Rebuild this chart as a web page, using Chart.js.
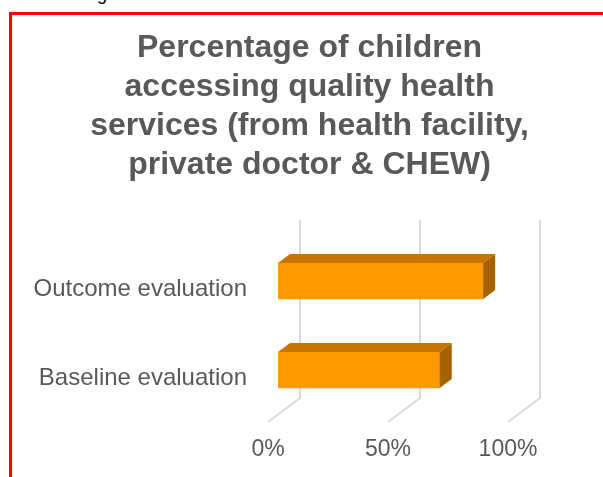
<!DOCTYPE html>
<html>
<head>
<meta charset="utf-8">
<script src="https://cdn.jsdelivr.net/npm/chart.js@4"></script>
<style>
  html, body { margin: 0; padding: 0; background: #ffffff; }
  #wrap { position: relative; width: 603px; height: 477px; overflow: hidden; }
  #frameTop { position: absolute; left: 9px; top: 12px; width: 594px; height: 3px; background: #ff0000; }
  #frameLeft { position: absolute; left: 9px; top: 12px; width: 3px; height: 465px; background: #ff0000; }
  #above { position: absolute; left: 97px; top: -15px; font: 18px "Liberation Sans", Arial, sans-serif; line-height: 18px; color: #000; }
  canvas { position: absolute; left: 0; top: 0; }
</style>
</head>
<body>
<div id="wrap">
  <div id="above">g</div>
  <canvas id="c" width="603" height="477"></canvas>
  <div id="frameTop"></div>
  <div id="frameLeft"></div>
</div>
<script>
const categories = ['Outcome evaluation', 'Baseline evaluation'];
const shareValues = [85.5, 67.4];
const tickValues = [0, 50, 100];
const titleLines = [
  'Percentage of children',
  'accessing quality health',
  'services (from health facility,',
  'private doctor & CHEW)'
];

const FRONT = '#ff9900';
const TOP_FACE = '#c57500';
const SIDE_FACE = '#a56300';
const GRID = '#d9d9d9';
const TEXT = '#595959';
const FONT = '"Liberation Sans", Arial, sans-serif';

// depth of the 3D box relative to the bar plane
const BACK_DX = 22, BACK_DY = -16.5;   // back wall
const FRONT_DX = -10, FRONT_DY = 7.5;  // front edge of the floor
const BAR_DX = 12, BAR_DY = -9;        // bar depth

const wallPlugin = {
  id: 'wall3d',
  beforeDatasetsDraw(chart) {
    const { ctx, chartArea, scales } = chart;
    ctx.save();
    ctx.strokeStyle = GRID;
    ctx.lineWidth = 2;
    tickValues.forEach(v => {
      const p = scales.x.getPixelForValue(v);
      ctx.beginPath();
      ctx.moveTo(p + BACK_DX, chartArea.top + BACK_DY);
      ctx.lineTo(p + BACK_DX, chartArea.bottom + BACK_DY);
      ctx.lineTo(p + FRONT_DX, chartArea.bottom + FRONT_DY);
      ctx.stroke();
    });
    ctx.restore();
  },
  afterDatasetsDraw(chart) {
    const { ctx } = chart;
    const meta = chart.getDatasetMeta(0);
    ctx.save();
    meta.data.forEach(bar => {
      const { x, y, base, height } = bar.getProps(['x', 'y', 'base', 'height'], true);
      const top = y - height / 2;
      const bottom = y + height / 2;
      // top face
      ctx.fillStyle = TOP_FACE;
      ctx.beginPath();
      ctx.moveTo(base, top);
      ctx.lineTo(x, top);
      ctx.lineTo(x + BAR_DX, top + BAR_DY);
      ctx.lineTo(base + BAR_DX, top + BAR_DY);
      ctx.closePath();
      ctx.fill();
      // side face
      ctx.fillStyle = SIDE_FACE;
      ctx.beginPath();
      ctx.moveTo(x, top);
      ctx.lineTo(x + BAR_DX, top + BAR_DY);
      ctx.lineTo(x + BAR_DX, bottom + BAR_DY);
      ctx.lineTo(x, bottom);
      ctx.closePath();
      ctx.fill();
    });
    ctx.restore();
  }
};

new Chart(document.getElementById('c'), {
  type: 'bar',
  data: {
    labels: categories,
    datasets: [{
      data: shareValues,
      backgroundColor: FRONT,
      borderWidth: 0,
      barThickness: 36
    }]
  },
  options: {
    indexAxis: 'y',
    responsive: false,
    animation: false,
    events: [],
    layout: { padding: { left: 16, right: 0, top: 0, bottom: 0 } },
    plugins: {
      legend: { display: false },
      tooltip: { enabled: false },
      title: {
        display: true,
        text: titleLines,
        color: TEXT,
        font: { family: FONT, size: 32, weight: 'bold', lineHeight: '39px' },
        padding: { top: 28.5, bottom: 52 }
      }
    },
    scales: {
      x: {
        min: 0,
        max: 100,
        afterBuildTicks(scale) { scale.ticks = tickValues.map(v => ({ value: v })); },
        afterFit(scale) { scale.height = 62.5; },
        grid: { display: false, drawTicks: false },
        border: { display: false },
        ticks: {
          color: TEXT,
          font: { family: FONT, size: 23 },
          padding: 21,
          labelOffset: -10,
          maxRotation: 0,
          callback: v => v + '%'
        }
      },
      y: {
        afterFit(scale) { scale.width = 262; },
        grid: { display: false, drawTicks: false },
        border: { display: false },
        ticks: {
          color: TEXT,
          font: { family: FONT, size: 24 },
          padding: 31,
          labelOffset: 8
        }
      },
      // empty right-hand axis that reserves room for the box depth
      depth: {
        type: 'linear',
        position: 'right',
        axis: 'y',
        min: 0,
        max: 1,
        afterFit(scale) { scale.width = 85; },
        grid: { display: false, drawTicks: false },
        border: { display: false },
        ticks: { display: false }
      }
    }
  },
  plugins: [wallPlugin]
});
</script>
</body>
</html>
